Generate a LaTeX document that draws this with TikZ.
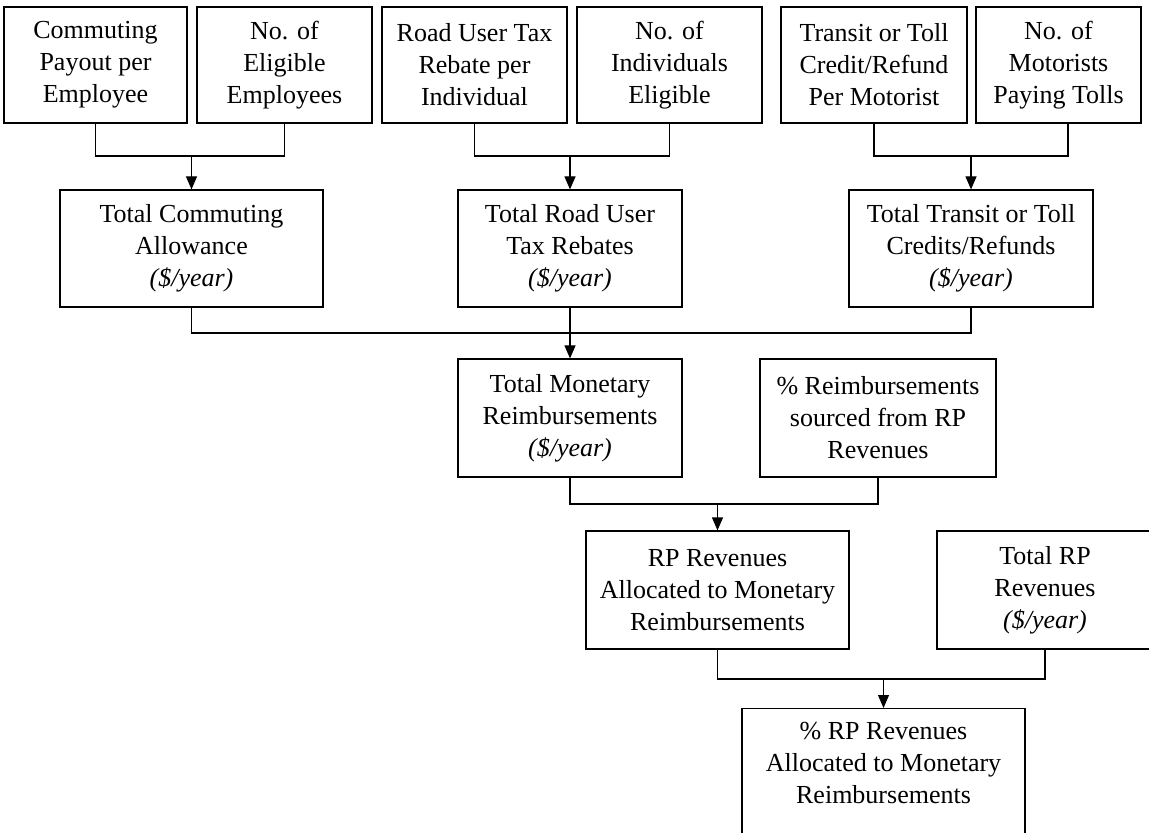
\documentclass[tikz,border=0pt]{standalone}
\usepackage{fontspec}
\setmainfont{Liberation Serif}
\usepackage{tikz}
\usetikzlibrary{arrows.meta}
\newcommand{\peryear}{\textit{(\$/year)}}

\begin{document}
\begin{tikzpicture}[
  x=0.5pt, y=-0.5pt,
  box/.style={draw, line width=0.6pt, align=center, inner xsep=1pt, inner ysep=2pt, minimum height=58.5pt, font=\fontsize{13pt}{16pt}\selectfont},
  link/.style={line width=0.6pt},
  arr/.style={link, -{Triangle[width=5.5pt, length=6.5pt]}}
]
  \useasboundingbox (0,0) rectangle (1149,833);
  \clip (0,0) rectangle (1149,833);

  % inputs, top row
  \node[box, minimum width=91.5pt, minimum height=58pt] (payout) at (95.5,65) {Commuting\\Payout per\\Employee};
  \node[box, minimum width=87.5pt, minimum height=58pt] (nemp) at (284.5,65) {No. of\\Eligible\\Employees};
  \node[box, minimum width=92.5pt, minimum height=58pt] (rebate) at (474.5,65) {Road User Tax\\Rebate per\\Individual};
  \node[box, minimum width=92.5pt, minimum height=58pt] (nind) at (669.5,65) {No. of\\Individuals\\Eligible};
  \node[box, minimum width=93pt, minimum height=58pt] (credit) at (874,65) {Transit or Toll\\Credit/Refund\\Per Motorist};
  \node[box, minimum width=82.5pt, minimum height=58pt] (nmot) at (1058.5,65) {No. of\\Motorists\\Paying Tolls};

  % totals
  \node[box, minimum width=131.5pt] (allow) at (191.5,248.5) {Total Commuting\\Allowance\\\peryear};
  \node[box, minimum width=112pt] (rebates) at (570,248.5) {Total Road User\\Tax Rebates\\\peryear};
  \node[box, minimum width=122pt] (credits) at (971,248.5) {Total Transit or Toll\\Credits/Refunds\\\peryear};

  \node[box, minimum width=112pt, minimum height=59pt] (monetary) at (570,418) {Total Monetary\\Reimbursements\\\peryear};
  \node[box, minimum width=118pt, minimum height=59pt] (pctreimb) at (878,418) {\% Reimbursements\\sourced from RP\\Revenues};

  \node[box, minimum width=131.5pt, minimum height=59pt] (rpalloc) at (717.5,590) {RP Revenues\\Allocated to Monetary\\Reimbursements};
  \node[box, minimum width=108pt, minimum height=59pt] (rptotal) at (1045,590) {Total RP\\Revenues\\\peryear};

  \node[box, minimum width=141.5pt, minimum height=86pt, anchor=north] (pctrp) at (883.5,708) {\% RP Revenues\\Allocated to Monetary\\Reimbursements\\~\\~};

  % junctions
  \coordinate (j1) at (191.5,156);
  \coordinate (j2) at (570,156);
  \coordinate (j3) at (971,156);
  \coordinate (j4) at (570,333);
  \coordinate (j5) at (717.5,504);
  \coordinate (j6) at (883.5,679);

  \draw[link] (payout.south) |- (j1) -| (nemp.south);
  \draw[arr] (j1) -- (allow.north);
  \draw[link] (rebate.south) |- (j2) -| (nind.south);
  \draw[arr] (j2) -- (rebates.north);
  \draw[link] (credit.south) |- (j3) -| ([xshift=4.75pt]nmot.south);
  \draw[arr] (j3) -- (credits.north);

  \draw[link] (allow.south) |- (j4) -| (credits.south);
  \draw[arr] (rebates.south) -- (monetary.north);

  \draw[link] (monetary.south) |- (j5) -| (pctreimb.south);
  \draw[arr] (j5) -- (rpalloc.north);

  \draw[link] (rpalloc.south) |- (j6) -| (rptotal.south);
  \draw[arr] (j6) -- (pctrp.north);
\end{tikzpicture}
\end{document}
